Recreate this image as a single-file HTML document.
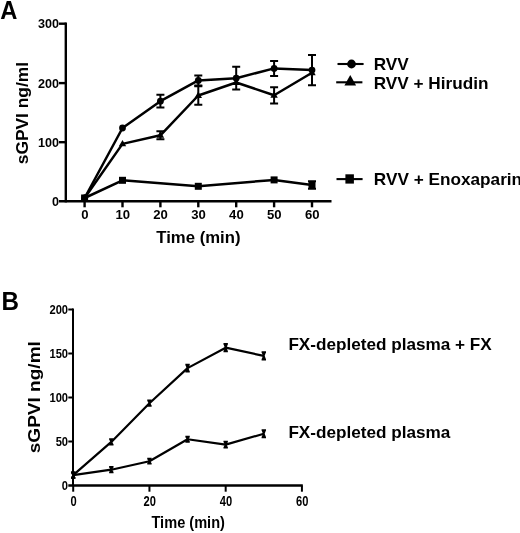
<!DOCTYPE html>
<html><head><meta charset="utf-8"><title>sGPVI time course</title>
<style>html,body{margin:0;padding:0;background:#fff;overflow:hidden;}svg{display:block;}</style></head>
<body><svg width="520" height="533" viewBox="0 0 520 533">
<rect width="520" height="533" fill="#fff"/>
<line x1="65.8" y1="22.5" x2="65.8" y2="202.39999999999998" stroke="#000" stroke-width="2.4"/>
<line x1="59" y1="201.2" x2="331.5" y2="201.2" stroke="#000" stroke-width="2.4"/>
<line x1="59" y1="142.20" x2="65.8" y2="142.20" stroke="#000" stroke-width="2.4"/>
<line x1="59" y1="83.10" x2="65.8" y2="83.10" stroke="#000" stroke-width="2.4"/>
<line x1="59" y1="23.70" x2="65.8" y2="23.70" stroke="#000" stroke-width="2.4"/>
<line x1="84.60" y1="201.2" x2="84.60" y2="207.3" stroke="#000" stroke-width="2.4"/>
<line x1="122.50" y1="201.2" x2="122.50" y2="207.3" stroke="#000" stroke-width="2.4"/>
<line x1="160.40" y1="201.2" x2="160.40" y2="207.3" stroke="#000" stroke-width="2.4"/>
<line x1="198.30" y1="201.2" x2="198.30" y2="207.3" stroke="#000" stroke-width="2.4"/>
<line x1="236.20" y1="201.2" x2="236.20" y2="207.3" stroke="#000" stroke-width="2.4"/>
<line x1="274.10" y1="201.2" x2="274.10" y2="207.3" stroke="#000" stroke-width="2.4"/>
<line x1="312.00" y1="201.2" x2="312.00" y2="207.3" stroke="#000" stroke-width="2.4"/>
<text transform="translate(59.10,205.90) scale(0.9700,1)" font-family="Liberation Sans, Arial, sans-serif" font-weight="bold" font-size="13" text-anchor="end">0</text>
<text transform="translate(59.10,146.90) scale(0.9700,1)" font-family="Liberation Sans, Arial, sans-serif" font-weight="bold" font-size="13" text-anchor="end">100</text>
<text transform="translate(59.10,87.80) scale(0.9700,1)" font-family="Liberation Sans, Arial, sans-serif" font-weight="bold" font-size="13" text-anchor="end">200</text>
<text transform="translate(59.10,28.40) scale(0.9700,1)" font-family="Liberation Sans, Arial, sans-serif" font-weight="bold" font-size="13" text-anchor="end">300</text>
<text transform="translate(84.80,219.00) scale(1.0100,1)" font-family="Liberation Sans, Arial, sans-serif" font-weight="bold" font-size="13" text-anchor="middle">0</text>
<text transform="translate(122.70,219.00) scale(1.0100,1)" font-family="Liberation Sans, Arial, sans-serif" font-weight="bold" font-size="13" text-anchor="middle">10</text>
<text transform="translate(160.60,219.00) scale(1.0100,1)" font-family="Liberation Sans, Arial, sans-serif" font-weight="bold" font-size="13" text-anchor="middle">20</text>
<text transform="translate(198.50,219.00) scale(1.0100,1)" font-family="Liberation Sans, Arial, sans-serif" font-weight="bold" font-size="13" text-anchor="middle">30</text>
<text transform="translate(236.40,219.00) scale(1.0100,1)" font-family="Liberation Sans, Arial, sans-serif" font-weight="bold" font-size="13" text-anchor="middle">40</text>
<text transform="translate(274.30,219.00) scale(1.0100,1)" font-family="Liberation Sans, Arial, sans-serif" font-weight="bold" font-size="13" text-anchor="middle">50</text>
<text transform="translate(312.20,219.00) scale(1.0100,1)" font-family="Liberation Sans, Arial, sans-serif" font-weight="bold" font-size="13" text-anchor="middle">60</text>
<text transform="translate(198.40,242.50) scale(1.0450,1)" font-family="Liberation Sans, Arial, sans-serif" font-weight="bold" font-size="16" text-anchor="middle">Time (min)</text>
<text transform="translate(28.40,113.10) rotate(-90) scale(1.0850,1)" font-family="Liberation Sans, Arial, sans-serif" font-weight="bold" font-size="16" text-anchor="middle">sGPVI ng/ml</text>
<text transform="translate(0.20,18.90) scale(0.9500,1)" font-family="Liberation Sans, Arial, sans-serif" font-weight="bold" font-size="25">A</text>
<polyline points="84.60,198.00 122.50,128.00 160.40,101.20 198.30,80.40 236.20,78.20 274.10,68.40 312.00,70.10" fill="none" stroke="#000" stroke-width="2.5" stroke-linejoin="round"/>
<polyline points="84.60,198.00 122.50,143.90 160.40,135.30 198.30,95.50 236.20,82.50 274.10,95.30 312.00,72.80" fill="none" stroke="#000" stroke-width="2.5" stroke-linejoin="round"/>
<polyline points="84.60,198.00 122.50,180.30 198.30,186.30 274.10,179.90 312.00,185.00" fill="none" stroke="#000" stroke-width="2.5" stroke-linejoin="round"/>
<path d="M160.40,94.80V107.60M156.40,94.80h8M156.40,107.60h8" stroke="#000" stroke-width="2" fill="none"/>
<path d="M198.30,75.40V85.40M194.30,75.40h8M194.30,85.40h8" stroke="#000" stroke-width="2" fill="none"/>
<path d="M236.20,66.80V89.60M232.20,66.80h8M232.20,89.60h8" stroke="#000" stroke-width="2" fill="none"/>
<path d="M274.10,60.90V75.90M270.10,60.90h8M270.10,75.90h8" stroke="#000" stroke-width="2" fill="none"/>
<path d="M312.00,55.00V85.20M308.00,55.00h8M308.00,85.20h8" stroke="#000" stroke-width="2" fill="none"/>
<path d="M160.40,131.30V139.30M156.40,131.30h8M156.40,139.30h8" stroke="#000" stroke-width="2" fill="none"/>
<path d="M198.30,86.30V104.70M194.30,86.30h8M194.30,104.70h8" stroke="#000" stroke-width="2" fill="none"/>
<path d="M274.10,87.20V103.40M270.10,87.20h8M270.10,103.40h8" stroke="#000" stroke-width="2" fill="none"/>
<path d="M312.00,181.20V188.80M308.00,181.20h8M308.00,188.80h8" stroke="#000" stroke-width="2" fill="none"/>
<circle cx="84.60" cy="198" r="3.4"/>
<circle cx="122.50" cy="128" r="3.4"/>
<circle cx="160.40" cy="101.2" r="3.4"/>
<circle cx="198.30" cy="80.4" r="3.4"/>
<circle cx="236.20" cy="78.2" r="3.4"/>
<circle cx="274.10" cy="68.4" r="3.4"/>
<circle cx="312.00" cy="70.1" r="3.4"/>
<path d="M84.60,194.05L88.30,200.42L80.90,200.42Z"/>
<path d="M122.50,139.95L126.20,146.32L118.80,146.32Z"/>
<path d="M160.40,131.35L164.10,137.72L156.70,137.72Z"/>
<path d="M198.30,91.55L202.00,97.92L194.60,97.92Z"/>
<path d="M236.20,78.55L239.90,84.92L232.50,84.92Z"/>
<path d="M274.10,91.35L277.80,97.72L270.40,97.72Z"/>
<path d="M312.00,68.85L315.70,75.22L308.30,75.22Z"/>
<rect x="81.10" y="194.50" width="7" height="7"/>
<rect x="119.00" y="176.80" width="7" height="7"/>
<rect x="194.80" y="182.80" width="7" height="7"/>
<rect x="270.60" y="176.40" width="7" height="7"/>
<rect x="308.50" y="181.50" width="7" height="7"/>
<line x1="337.5" y1="64" x2="363.6" y2="64" stroke="#000" stroke-width="2.1"/>
<circle cx="351.5" cy="64" r="4.4"/>
<line x1="336.2" y1="82.3" x2="362.4" y2="82.3" stroke="#000" stroke-width="2.1"/>
<path d="M350.25,74.9L356.1,85.5L344.4,85.5Z"/>
<line x1="336.5" y1="179.1" x2="362.6" y2="179.1" stroke="#000" stroke-width="2.1"/>
<rect x="345.4" y="174.3" width="8.5" height="9.3"/>
<text transform="translate(373.70,70.00) scale(1.0750,1)" font-family="Liberation Sans, Arial, sans-serif" font-weight="bold" font-size="16">RVV</text>
<text transform="translate(373.70,89.00) scale(1.0750,1)" font-family="Liberation Sans, Arial, sans-serif" font-weight="bold" font-size="16">RVV + Hirudin</text>
<text transform="translate(373.80,184.80) scale(1.0750,1)" font-family="Liberation Sans, Arial, sans-serif" font-weight="bold" font-size="16">RVV + Enoxaparin</text>
<line x1="73.0" y1="308.5" x2="73.0" y2="485.5" stroke="#000" stroke-width="2.0"/>
<line x1="68.3" y1="485.5" x2="302.8" y2="485.5" stroke="#000" stroke-width="2.7"/>
<line x1="68.3" y1="441.50" x2="73.0" y2="441.50" stroke="#000" stroke-width="2.0"/>
<line x1="68.3" y1="397.50" x2="73.0" y2="397.50" stroke="#000" stroke-width="2.0"/>
<line x1="68.3" y1="353.50" x2="73.0" y2="353.50" stroke="#000" stroke-width="2.0"/>
<line x1="68.3" y1="309.50" x2="73.0" y2="309.50" stroke="#000" stroke-width="2.0"/>
<line x1="73.20" y1="485.5" x2="73.20" y2="491.7" stroke="#000" stroke-width="2.0"/>
<line x1="149.44" y1="485.5" x2="149.44" y2="491.7" stroke="#000" stroke-width="2.0"/>
<line x1="225.68" y1="485.5" x2="225.68" y2="491.7" stroke="#000" stroke-width="2.0"/>
<line x1="301.92" y1="485.5" x2="301.92" y2="491.7" stroke="#000" stroke-width="2.0"/>
<text transform="translate(68.10,489.70) scale(0.8750,1)" font-family="Liberation Sans, Arial, sans-serif" font-weight="bold" font-size="12.8" text-anchor="end">0</text>
<text transform="translate(68.10,445.70) scale(0.8750,1)" font-family="Liberation Sans, Arial, sans-serif" font-weight="bold" font-size="12.8" text-anchor="end">50</text>
<text transform="translate(68.10,401.70) scale(0.8750,1)" font-family="Liberation Sans, Arial, sans-serif" font-weight="bold" font-size="12.8" text-anchor="end">100</text>
<text transform="translate(68.10,357.70) scale(0.8750,1)" font-family="Liberation Sans, Arial, sans-serif" font-weight="bold" font-size="12.8" text-anchor="end">150</text>
<text transform="translate(68.10,313.70) scale(0.8750,1)" font-family="Liberation Sans, Arial, sans-serif" font-weight="bold" font-size="12.8" text-anchor="end">200</text>
<text transform="translate(73.50,506.00) scale(0.7950,1)" font-family="Liberation Sans, Arial, sans-serif" font-weight="bold" font-size="14" text-anchor="middle">0</text>
<text transform="translate(149.74,506.00) scale(0.7950,1)" font-family="Liberation Sans, Arial, sans-serif" font-weight="bold" font-size="14" text-anchor="middle">20</text>
<text transform="translate(225.98,506.00) scale(0.7950,1)" font-family="Liberation Sans, Arial, sans-serif" font-weight="bold" font-size="14" text-anchor="middle">40</text>
<text transform="translate(302.22,506.00) scale(0.7950,1)" font-family="Liberation Sans, Arial, sans-serif" font-weight="bold" font-size="14" text-anchor="middle">60</text>
<text transform="translate(188.20,527.60) scale(0.9120,1)" font-family="Liberation Sans, Arial, sans-serif" font-weight="bold" font-size="16" text-anchor="middle">Time (min)</text>
<text transform="translate(40.00,397.20) rotate(-90) scale(1.1900,1)" font-family="Liberation Sans, Arial, sans-serif" font-weight="bold" font-size="16" text-anchor="middle">sGPVI ng/ml</text>
<text transform="translate(1.50,310.40) scale(0.9700,1)" font-family="Liberation Sans, Arial, sans-serif" font-weight="bold" font-size="25">B</text>
<polyline points="73.20,475.20 111.32,441.90 149.44,403.20 187.56,368.15 225.68,347.70 263.80,355.85" fill="none" stroke="#000" stroke-width="2.2" stroke-linejoin="round"/>
<polyline points="73.20,475.20 111.32,469.70 149.44,461.20 187.56,439.25 225.68,444.65 263.80,433.75" fill="none" stroke="#000" stroke-width="2.2" stroke-linejoin="round"/>
<path d="M71.00,471.60h4.4v1.6h-4.4zM71.00,477.20h4.4v1.6h-4.4zM71.20,473.10L75.20,473.10L74.10,475.20L75.20,477.30L71.20,477.30L72.30,475.20Z"/>
<path d="M109.12,438.20h4.4v1.6h-4.4zM109.12,444.00h4.4v1.6h-4.4zM109.32,439.70L113.32,439.70L112.22,441.90L113.32,444.10L109.32,444.10L110.42,441.90Z"/>
<path d="M147.24,399.60h4.4v1.6h-4.4zM147.24,405.20h4.4v1.6h-4.4zM147.44,401.10L151.44,401.10L150.34,403.20L151.44,405.30L147.44,405.30L148.54,403.20Z"/>
<path d="M185.36,363.80h4.4v1.6h-4.4zM185.36,370.90h4.4v1.6h-4.4zM185.56,365.30L189.56,365.30L188.46,368.15L189.56,371.00L185.56,371.00L186.66,368.15Z"/>
<path d="M223.48,343.10h4.4v1.6h-4.4zM223.48,350.70h4.4v1.6h-4.4zM223.68,344.60L227.68,344.60L226.58,347.70L227.68,350.80L223.68,350.80L224.78,347.70Z"/>
<path d="M261.60,351.30h4.4v1.6h-4.4zM261.60,358.80h4.4v1.6h-4.4zM261.80,352.80L265.80,352.80L264.70,355.85L265.80,358.90L261.80,358.90L262.90,355.85Z"/>
<path d="M71.00,471.60h4.4v1.6h-4.4zM71.00,477.20h4.4v1.6h-4.4zM71.20,473.10L75.20,473.10L74.10,475.20L75.20,477.30L71.20,477.30L72.30,475.20Z"/>
<path d="M109.12,466.10h4.4v1.6h-4.4zM109.12,471.70h4.4v1.6h-4.4zM109.32,467.60L113.32,467.60L112.22,469.70L113.32,471.80L109.32,471.80L110.42,469.70Z"/>
<path d="M147.24,457.80h4.4v1.6h-4.4zM147.24,463.00h4.4v1.6h-4.4zM147.44,459.30L151.44,459.30L150.34,461.20L151.44,463.10L147.44,463.10L148.54,461.20Z"/>
<path d="M185.36,435.80h4.4v1.6h-4.4zM185.36,441.10h4.4v1.6h-4.4zM185.56,437.30L189.56,437.30L188.46,439.25L189.56,441.20L185.56,441.20L186.66,439.25Z"/>
<path d="M223.48,440.70h4.4v1.6h-4.4zM223.48,447.00h4.4v1.6h-4.4zM223.68,442.20L227.68,442.20L226.58,444.65L227.68,447.10L223.68,447.10L224.78,444.65Z"/>
<path d="M261.60,429.20h4.4v1.6h-4.4zM261.60,436.70h4.4v1.6h-4.4zM261.80,430.70L265.80,430.70L264.70,433.75L265.80,436.80L261.80,436.80L262.90,433.75Z"/>
<text transform="translate(288.40,349.60) scale(1.1000,1)" font-family="Liberation Sans, Arial, sans-serif" font-weight="bold" font-size="15.6">FX-depleted plasma + FX</text>
<text transform="translate(288.40,438.40) scale(1.1000,1)" font-family="Liberation Sans, Arial, sans-serif" font-weight="bold" font-size="15.6">FX-depleted plasma</text>
</svg></body></html>
